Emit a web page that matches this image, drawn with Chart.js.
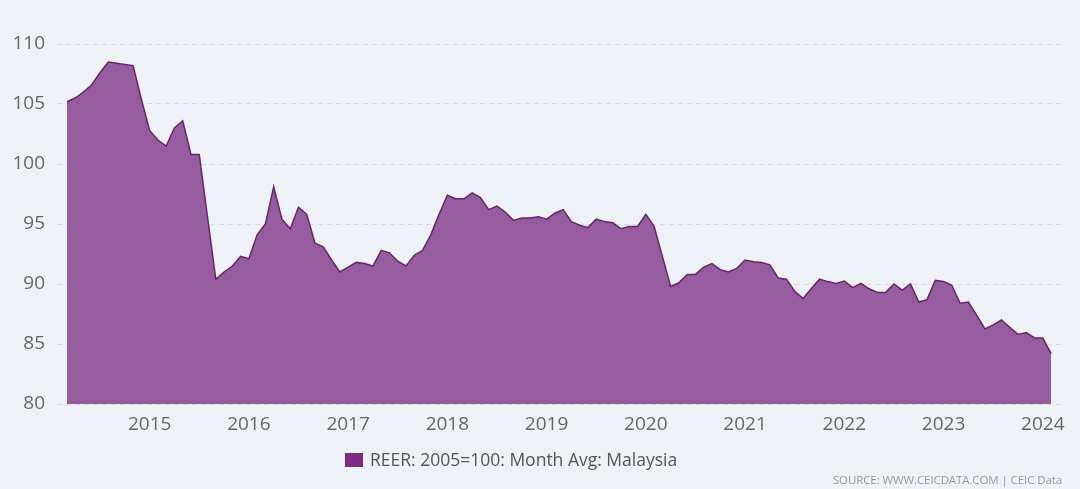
<!DOCTYPE html>
<html>
<head>
<meta charset="utf-8">
<script src="https://cdn.jsdelivr.net/npm/chart.js@4"></script>
<style>
  html, body { margin: 0; padding: 0; background: #eef2f6; }
  #wrap { position: relative; width: 1080px; height: 489px; }
  #source {
    position: absolute; right: 18px; top: 472px;
    font: 11.5px "Open Sans", sans-serif; color: #999; letter-spacing: -0.1px;
  }
</style>
</head>
<body>
<div id="wrap">
  <canvas id="chart" width="1080" height="489"></canvas>
  <div id="source">SOURCE: WWW.CEICDATA.COM | CEIC Data</div>
</div>
<script>
// Monthly series, Mar 2014 .. Feb 2024
const seriesLabel = 'REER: 2005=100: Month Avg: Malaysia';
const reer = [
  105.2, 105.5, 106.0, 106.6, 107.6, 108.5, 108.4, 108.3, 108.2, 105.4,
  102.8, 102.0, 101.5, 103.0, 103.6, 100.8, 100.8, 95.6, 90.4, 91.0,
  91.5, 92.3, 92.1, 94.1, 95.0, 98.1, 95.4, 94.6, 96.4, 95.8,
  93.4, 93.1, 92.0, 91.0, 91.4, 91.8, 91.7, 91.5, 92.8, 92.6,
  91.9, 91.5, 92.4, 92.8, 94.1, 95.8, 97.4, 97.1, 97.1, 97.6,
  97.2, 96.2, 96.5, 96.0, 95.3, 95.5, 95.5, 95.6, 95.4, 95.9,
  96.2, 95.2, 94.9, 94.7, 95.4, 95.2, 95.1, 94.6, 94.8, 94.8,
  95.8, 94.8, 92.3, 89.8, 90.1, 90.8, 90.8, 91.4, 91.7, 91.2,
  91.0, 91.3, 92.0, 91.85, 91.8, 91.6, 90.5, 90.4, 89.4, 88.8,
  89.6, 90.4, 90.2, 90.05, 90.25, 89.7, 90.05, 89.6, 89.3, 89.3,
  90.0, 89.5, 90.0, 88.5, 88.7, 90.3, 90.2, 89.9, 88.4, 88.5,
  87.4, 86.25, 86.6, 87.0, 86.4, 85.8, 85.95, 85.5, 85.5, 84.2
];
const startYear = 2014, startMonth = 3;
const yearTicks = ['2015', '2016', '2017', '2018', '2019', '2020', '2021', '2022', '2023', '2024'];

// month index of each January tick
const tickIndex = yearTicks.map(y => (Number(y) - startYear) * 12 - (startMonth - 1));
const points = reer.map((v, i) => ({ x: i, y: v }));

const legendPlugin = {
  id: 'bottomLegend',
  afterDraw(chart) {
    const ctx = chart.ctx;
    ctx.save();
    ctx.fillStyle = '#7b2b83';
    ctx.fillRect(345, 453, 18, 14);
    ctx.fillStyle = '#555';
    ctx.font = '17.5px "Open Sans", sans-serif';
    ctx.textBaseline = 'middle';
    ctx.fillText(chart.data.datasets[0].label, 370, 461);
    ctx.restore();
  }
};

new Chart(document.getElementById('chart'), {
  type: 'line',
  data: {
    datasets: [{
      label: seriesLabel,
      data: points,
      borderColor: '#66266c',
      borderWidth: 1.5,
      backgroundColor: '#955c9e',
      fill: 'start',
      pointRadius: 0,
      tension: 0
    }]
  },
  options: {
    responsive: false,
    animation: false,
    layout: { padding: { left: 0, right: 19, top: 44, bottom: 0 } },
    plugins: { legend: { display: false }, tooltip: { enabled: false } },
    scales: {
      x: {
        type: 'linear',
        min: -1.2,
        max: 120.2,
        afterFit: s => { s.height = 85; },
        afterBuildTicks: s => { s.ticks = tickIndex.map(v => ({ value: v })); },
        grid: { display: false, drawTicks: false },
        border: { display: false },
        ticks: {
          padding: 9,
          color: '#666',
          font: { family: 'Open Sans', size: 19 },
          maxRotation: 0,
          autoSkip: false,
          callback: v => yearTicks[tickIndex.indexOf(v)]
        }
      },
      y: {
        min: 80,
        max: 110,
        afterFit: s => { s.width = 57; },
        grid: {
          color: '#d6dbe1',
          lineWidth: 1,
          drawTicks: false
        },
        border: { display: false, dash: [5, 4] },
        ticks: {
          stepSize: 5,
          padding: 12,
          color: '#666',
          font: { family: 'Open Sans', size: 19 }
        }
      }
    }
  },
  plugins: [legendPlugin]
});
</script>
</body>
</html>
